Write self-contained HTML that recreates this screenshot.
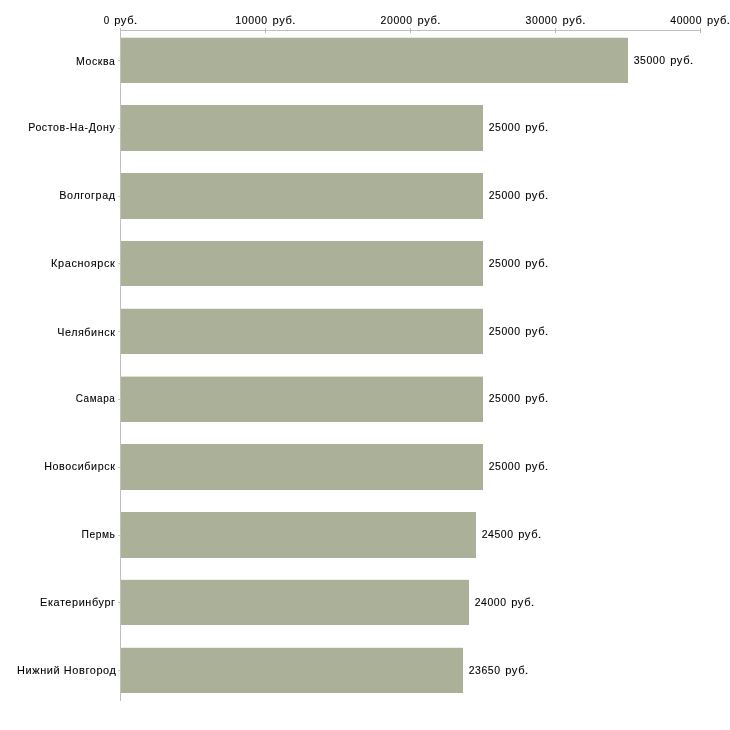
<!DOCTYPE html>
<html lang="ru">
<head>
<meta charset="utf-8">
<title>Chart</title>
<style>
html,body{margin:0;padding:0;background:#fff;}
body{width:730px;height:730px;overflow:hidden;font-family:"Liberation Sans",sans-serif;}
svg{display:block;}
text{font-family:"Liberation Sans",sans-serif;font-size:11.0px;fill:#000000;stroke:#000;stroke-width:0.10;}
</style>
</head>
<body>
<svg width="730" height="730" viewBox="0 0 730 730">
<rect x="0" y="0" width="730" height="730" fill="#ffffff"/>
<g fill="#abb198">
<rect x="121" y="37.72" width="507" height="45.28"/>
<rect x="121" y="105.00" width="362" height="46.00"/>
<rect x="121" y="173.00" width="362" height="46.00"/>
<rect x="121" y="241.00" width="362" height="45.00"/>
<rect x="121" y="308.75" width="362" height="45.25"/>
<rect x="121" y="376.60" width="362" height="45.40"/>
<rect x="121" y="444.00" width="362" height="46.00"/>
<rect x="121" y="512.00" width="355" height="46.00"/>
<rect x="121" y="579.85" width="348" height="45.15"/>
<rect x="121" y="647.80" width="342" height="45.20"/>
</g>
<g fill="#c0c0c0">
<rect x="120" y="30" width="581" height="1"/>
<rect x="120" y="30" width="1" height="671"/>
</g>
<g fill="#bfbc8e">
<rect x="120" y="28" width="1" height="2"/>
<rect x="265" y="28" width="1" height="5"/>
<rect x="410" y="28" width="1" height="5"/>
<rect x="555" y="28" width="1" height="5"/>
<rect x="700" y="28" width="1" height="5"/>
</g>
<g fill="#d0ceae">
<rect x="118" y="60" width="3" height="1"/>
<rect x="118" y="128" width="3" height="1"/>
<rect x="118" y="196" width="3" height="1"/>
<rect x="118" y="263" width="3" height="1"/>
<rect x="118" y="331" width="3" height="1"/>
<rect x="118" y="399" width="3" height="1"/>
<rect x="118" y="467" width="3" height="1"/>
<rect x="118" y="535" width="3" height="1"/>
<rect x="118" y="602" width="3" height="1"/>
<rect x="118" y="670" width="3" height="1"/>
</g>
<g style="opacity:0.999">
<text transform="translate(76.11 65) scale(0.9566 1.0550)" letter-spacing="0.600">Москва</text>
<text transform="translate(28.20 131) scale(0.9651 1.0550)" letter-spacing="0.600">Ростов-На-Дону</text>
<text transform="translate(59.29 199) scale(0.9781 1.0550)" letter-spacing="0.600">Волгоград</text>
<text transform="translate(51.08 267) scale(0.9941 1.0550)" letter-spacing="0.600">Красноярск</text>
<text transform="translate(57.19 336) scale(0.9764 1.0550)" letter-spacing="0.600">Челябинск</text>
<text transform="translate(75.69 402) scale(0.9081 1.0550)" letter-spacing="0.600">Самара</text>
<text transform="translate(44.19 470) scale(0.9763 1.0550)" letter-spacing="0.600">Новосибирск</text>
<text transform="translate(81.43 538) scale(0.9357 1.0550)" letter-spacing="0.600">Пермь</text>
<text transform="translate(40.08 606) scale(0.9893 1.0550)" letter-spacing="0.600">Екатеринбург</text>
<text transform="translate(17.08 674) scale(0.9939 1.0550)" letter-spacing="0.600">Нижний Новгород</text>
<text transform="translate(103.71 24) scale(0.8972 1.0550)" letter-spacing="0.000">0</text>
<text transform="translate(114.19 24) scale(1.0139 1.0550)" letter-spacing="0.600">руб</text>
<text transform="translate(133.63 24) scale(1.1818 1.0550)" letter-spacing="0.000">.</text>
<text transform="translate(235.25 24) scale(0.9638 1.0550)" letter-spacing="0.600">10000</text>
<text transform="translate(272.49 24) scale(1.0139 1.0550)" letter-spacing="0.600">руб</text>
<text transform="translate(291.93 24) scale(1.1818 1.0550)" letter-spacing="0.000">.</text>
<text transform="translate(380.62 24) scale(0.9525 1.0550)" letter-spacing="0.600">20000</text>
<text transform="translate(417.49 24) scale(1.0139 1.0550)" letter-spacing="0.600">руб</text>
<text transform="translate(436.93 24) scale(1.1818 1.0550)" letter-spacing="0.000">.</text>
<text transform="translate(525.62 24) scale(0.9525 1.0550)" letter-spacing="0.600">30000</text>
<text transform="translate(562.49 24) scale(1.0139 1.0550)" letter-spacing="0.600">руб</text>
<text transform="translate(581.93 24) scale(1.1818 1.0550)" letter-spacing="0.000">.</text>
<text transform="translate(670.31 24) scale(0.9452 1.0550)" letter-spacing="0.600">40000</text>
<text transform="translate(707.09 24) scale(1.0139 1.0550)" letter-spacing="0.600">руб</text>
<text transform="translate(726.53 24) scale(1.1818 1.0550)" letter-spacing="0.000">.</text>
<text transform="translate(633.67 64) scale(0.9525 1.0550)" letter-spacing="0.600">35000</text>
<text transform="translate(670.19 64) scale(1.0139 1.0550)" letter-spacing="0.600">руб</text>
<text transform="translate(689.63 64) scale(1.1818 1.0550)" letter-spacing="0.000">.</text>
<text transform="translate(488.67 131) scale(0.9525 1.0550)" letter-spacing="0.600">25000</text>
<text transform="translate(525.19 131) scale(1.0139 1.0550)" letter-spacing="0.600">руб</text>
<text transform="translate(544.63 131) scale(1.1818 1.0550)" letter-spacing="0.000">.</text>
<text transform="translate(488.67 199) scale(0.9525 1.0550)" letter-spacing="0.600">25000</text>
<text transform="translate(525.19 199) scale(1.0139 1.0550)" letter-spacing="0.600">руб</text>
<text transform="translate(544.63 199) scale(1.1818 1.0550)" letter-spacing="0.000">.</text>
<text transform="translate(488.67 267) scale(0.9525 1.0550)" letter-spacing="0.600">25000</text>
<text transform="translate(525.19 267) scale(1.0139 1.0550)" letter-spacing="0.600">руб</text>
<text transform="translate(544.63 267) scale(1.1818 1.0550)" letter-spacing="0.000">.</text>
<text transform="translate(488.67 335) scale(0.9525 1.0550)" letter-spacing="0.600">25000</text>
<text transform="translate(525.19 335) scale(1.0139 1.0550)" letter-spacing="0.600">руб</text>
<text transform="translate(544.63 335) scale(1.1818 1.0550)" letter-spacing="0.000">.</text>
<text transform="translate(488.67 402) scale(0.9525 1.0550)" letter-spacing="0.600">25000</text>
<text transform="translate(525.19 402) scale(1.0139 1.0550)" letter-spacing="0.600">руб</text>
<text transform="translate(544.63 402) scale(1.1818 1.0550)" letter-spacing="0.000">.</text>
<text transform="translate(488.67 470) scale(0.9525 1.0550)" letter-spacing="0.600">25000</text>
<text transform="translate(525.19 470) scale(1.0139 1.0550)" letter-spacing="0.600">руб</text>
<text transform="translate(544.63 470) scale(1.1818 1.0550)" letter-spacing="0.000">.</text>
<text transform="translate(481.67 538) scale(0.9525 1.0550)" letter-spacing="0.600">24500</text>
<text transform="translate(518.19 538) scale(1.0139 1.0550)" letter-spacing="0.600">руб</text>
<text transform="translate(537.63 538) scale(1.1818 1.0550)" letter-spacing="0.000">.</text>
<text transform="translate(474.67 606) scale(0.9525 1.0550)" letter-spacing="0.600">24000</text>
<text transform="translate(511.19 606) scale(1.0139 1.0550)" letter-spacing="0.600">руб</text>
<text transform="translate(530.63 606) scale(1.1818 1.0550)" letter-spacing="0.000">.</text>
<text transform="translate(468.67 674) scale(0.9525 1.0550)" letter-spacing="0.600">23650</text>
<text transform="translate(505.19 674) scale(1.0139 1.0550)" letter-spacing="0.600">руб</text>
<text transform="translate(524.63 674) scale(1.1818 1.0550)" letter-spacing="0.000">.</text>
</g>
</svg>
</body>
</html>
